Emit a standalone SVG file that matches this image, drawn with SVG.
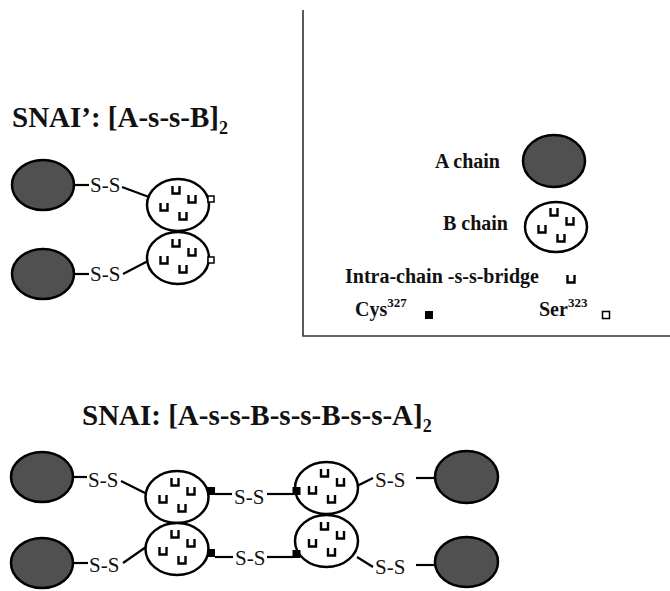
<svg xmlns="http://www.w3.org/2000/svg" xmlns:xlink="http://www.w3.org/1999/xlink" width="670" height="591" viewBox="0 0 670 591">
<style>
.t{font-family:"Liberation Serif","Times New Roman",serif;font-weight:bold;fill:#111}
.ttl{font-size:29px}
.lg{font-size:20px}
.ss{font-family:"Liberation Serif","Times New Roman",serif;font-size:21px;fill:#111}
.a{fill:#505050;stroke:#000;stroke-width:2.5}
.b{fill:#fff;stroke:#000;stroke-width:2.5}
.ln{stroke:#000;stroke-width:2.2;fill:none}
.br{stroke:#000;stroke-width:2.4;fill:none}
.cys{fill:#000}
.ser{fill:#fff;stroke:#000;stroke-width:1.5}
.frame{stroke:#333;stroke-width:1.6;fill:none}
</style>
<defs>
<path id="bridge" class="br" d="M-3.5,-4 V3.5 H3.5 V-4"/>
<g id="bmarks">
<use xlink:href="#bridge" href="#bridge" x="-2" y="-15"/>
<use xlink:href="#bridge" href="#bridge" x="14" y="-6"/>
<use xlink:href="#bridge" href="#bridge" x="-14" y="2"/>
<use xlink:href="#bridge" href="#bridge" x="5" y="11"/>
</g>
</defs>
<rect width="670" height="591" fill="#fff"/>

<g id="legend-frame">
<path class="frame" d="M303,10 V336 H670"/>
</g>

<g id="title-snai-prime">
<text class="t ttl" x="12" y="127">SNAI’: [A-s-s-B]<tspan font-size="18" dy="7">2</tspan></text>
</g>
<g id="title-snai">
<text class="t ttl" x="82" y="425">SNAI: [A-s-s-B-s-s-B-s-s-A]<tspan font-size="18" dy="7">2</tspan></text>
</g>

<g id="connectors">
<!-- SNAI' top -->
<path class="ln" d="M74,185 H89"/>
<text class="ss" x="90" y="192">S-S</text>
<path class="ln" d="M122,187 L149,197"/>
<!-- SNAI' bottom -->
<path class="ln" d="M74,274 H89"/>
<text class="ss" x="90" y="281">S-S</text>
<path class="ln" d="M123,274 L148,261"/>
<!-- SNAI row 1 -->
<path class="ln" d="M73,477 H87"/>
<text class="ss" x="88" y="487">S-S</text>
<path class="ln" d="M121,481 L147,494"/>
<path class="ln" d="M215,494 H232"/>
<text class="ss" x="234" y="504">S-S</text>
<path class="ln" d="M267,494 H294"/>
<path class="ln" d="M357,486 L373,478"/>
<text class="ss" x="375" y="487">S-S</text>
<path class="ln" d="M416,478 H446"/>
<!-- SNAI row 2 -->
<path class="ln" d="M73,563 H88"/>
<text class="ss" x="89" y="572">S-S</text>
<path class="ln" d="M123,563 L146,547"/>
<path class="ln" d="M215,557 H233"/>
<text class="ss" x="235" y="565">S-S</text>
<path class="ln" d="M267,557 H294"/>
<path class="ln" d="M357,557 L373,567"/>
<text class="ss" x="375" y="574">S-S</text>
<path class="ln" d="M416,565 H446"/>
</g>

<!-- SNAI' nodes -->
<g id="snaip-A1"><ellipse class="a" cx="43" cy="185" rx="31" ry="25"/></g>
<g id="snaip-A2"><ellipse class="a" cx="43" cy="274" rx="31" ry="25"/></g>
<g id="snaip-B1" transform="translate(178,205)">
<ellipse class="b" rx="31" ry="26"/><use xlink:href="#bmarks" href="#bmarks"/>
<rect class="ser" x="30" y="-9" width="6" height="6"/>
</g>
<g id="snaip-B2" transform="translate(178,258)">
<ellipse class="b" rx="31" ry="26"/><use xlink:href="#bmarks" href="#bmarks"/>
<rect class="ser" x="30" y="-1" width="6" height="6"/>
</g>

<!-- Legend -->
<g id="legend-A">
<text class="t lg" x="500" y="168" text-anchor="end">A chain</text>
<ellipse class="a" cx="554" cy="161" rx="31" ry="26"/>
</g>
<g id="legend-B">
<text class="t lg" x="508" y="230" text-anchor="end">B chain</text>
<g transform="translate(556,227)"><ellipse class="b" rx="31" ry="25"/><use xlink:href="#bmarks" href="#bmarks"/></g>
</g>
<g id="legend-bridge">
<text class="t lg" x="345" y="283">Intra-chain -s-s-bridge</text>
<use xlink:href="#bridge" href="#bridge" x="571" y="279"/>
</g>
<g id="legend-cys">
<text class="t lg" x="355" y="316">Cys<tspan font-size="13" dy="-9">327</tspan></text>
<rect class="cys" x="425" y="311" width="8" height="8"/>
</g>
<g id="legend-ser">
<text class="t lg" x="539" y="316">Ser<tspan font-size="13" dy="-9">323</tspan></text>
<rect class="ser" x="602.5" y="311.5" width="7" height="7"/>
</g>

<!-- SNAI nodes -->
<g id="snai-A1"><ellipse class="a" cx="42" cy="477" rx="31" ry="25"/></g>
<g id="snai-A2"><ellipse class="a" cx="42" cy="563" rx="31" ry="25"/></g>
<g id="snai-BL1" transform="translate(177,497)">
<ellipse class="b" rx="31.5" ry="26"/><use xlink:href="#bmarks" href="#bmarks"/>
<rect class="cys" x="30" y="-10" width="8" height="8"/>
</g>
<g id="snai-BL2" transform="translate(177,549)">
<ellipse class="b" rx="31.5" ry="26"/><use xlink:href="#bmarks" href="#bmarks"/>
<rect class="cys" x="30" y="0" width="8" height="8"/>
</g>
<g id="snai-BR1" transform="translate(326.5,488)">
<ellipse class="b" rx="31.5" ry="26"/><use xlink:href="#bmarks" href="#bmarks"/>
<rect class="cys" x="-34" y="-1" width="8" height="8"/>
</g>
<g id="snai-BR2" transform="translate(326.5,541)">
<ellipse class="b" rx="31.5" ry="26"/><use xlink:href="#bmarks" href="#bmarks"/>
<rect class="cys" x="-34" y="9" width="8" height="8"/>
</g>
<g id="snai-A3"><ellipse class="a" cx="466.5" cy="477" rx="31.5" ry="26"/></g>
<g id="snai-A4"><ellipse class="a" cx="466.5" cy="562" rx="31.5" ry="25"/></g>
</svg>
